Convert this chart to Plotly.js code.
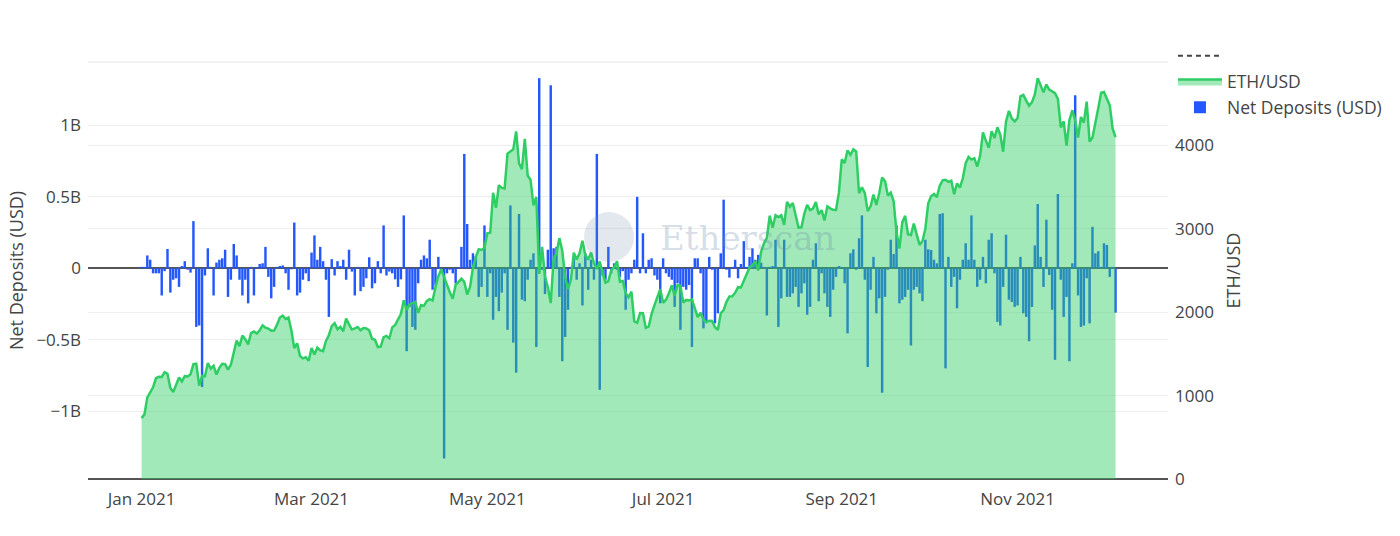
<!DOCTYPE html>
<html>
<head>
<meta charset="utf-8">
<script src="https://cdn.plot.ly/plotly-3.0.1.min.js"></script>
<style>
  html, body { margin: 0; padding: 0; background: #fff; }
  #chart { width: 1400px; height: 536px; }
</style>
</head>
<body>
<div id="chart"></div>
<script>
// ---- Data ----
const monthKeys = ['01','02','03','04','05','06','07','08','09','10','11','12'];

// ETH/USD daily price, by month
const ethJan = [730,775,979,1042,1100,1208,1225,1224,1281,1262,1090,1043,1130,1218,1171,1233,1230,1257,1377,1382,1121,1236,1231,1391,1324,1357,1253,1332,1382,1377,1312];
const ethFeb = [1370,1515,1660,1594,1719,1677,1614,1750,1769,1744,1784,1843,1814,1804,1779,1781,1848,1937,1960,1919,1935,1781,1570,1626,1475,1446,1459,1417];
const ethMar = [1570,1492,1575,1541,1533,1655,1724,1834,1869,1795,1825,1772,1924,1854,1792,1806,1823,1783,1810,1806,1783,1681,1669,1582,1588,1700,1715,1688,1818,1846,1918];
const ethApr = [1977,2143,2028,2094,2111,2124,1992,2085,2076,2135,2157,2140,2299,2432,2514,2423,2318,2236,2162,2330,2364,2403,2363,2212,2303,2536,2660,2755,2746,2772];
const ethMay = [2945,2952,3431,3253,3522,3490,3484,3902,3928,3952,4168,3785,3715,4079,3639,3587,3282,3382,2460,2784,2431,2300,2109,2643,2706,2888,2736,2419,2279,2390,2714];
const ethJun = [2633,2707,2856,2689,2630,2715,2590,2517,2608,2472,2354,2372,2508,2537,2611,2366,2373,2230,2178,2246,1889,1874,1990,1989,1812,1829,1979,2085,2169,2275];
const ethJul = [2113,2150,2226,2322,2198,2324,2316,2117,2147,2140,2153,2038,1940,1995,1911,1880,1898,1895,1820,1787,1990,2026,2124,2188,2191,2233,2300,2297,2383,2462,2537];
const ethAug = [2562,2610,2502,2725,2827,2890,3157,3013,3163,3141,3164,3046,3322,3265,3310,3156,3014,3018,3182,3286,3225,3242,3320,3173,3224,3101,3269,3245,3227,3225,3433];
const ethSep = [3834,3790,3941,3887,3952,3927,3426,3498,3427,3212,3270,3410,3285,3430,3615,3572,3398,3433,3329,2958,2764,3077,3155,2931,2925,3062,2934,2807,2853,3001];
const ethOct = [3307,3391,3418,3380,3518,3581,3587,3563,3576,3415,3545,3493,3606,3786,3862,3830,3847,3745,3877,4155,4057,3972,4171,4087,4217,4131,3924,4288,4414,4325,4288];
const ethNov = [4325,4589,4605,4537,4476,4518,4610,4807,4730,4636,4730,4668,4648,4626,4557,4216,4288,3998,4304,4421,4304,4095,4341,4273,4524,4045,4096,4293,4445,4631];
const ethDec = [4640,4560,4480,4200,4100];

// Net deposits (billions of USD), by month
const depJan = [0.01,0.01,0.09,0.06,-0.035,-0.035,-0.035,-0.19,-0.02,0.135,-0.17,-0.08,-0.07,-0.13,0.016,0.05,-0.01,-0.03,0.33,-0.41,-0.40,-0.83,-0.05,0.14,0.01,-0.19,0.04,0.06,0.07,0.13,-0.2];
const depFeb = [-0.08,0.17,0.09,-0.08,-0.19,-0.08,-0.245,0.01,-0.19,0.005,0.03,0.035,0.15,-0.06,-0.21,-0.13,0.01,0.016,0.02,-0.035,-0.15,-0.007,0.32,-0.19,-0.17,-0.08,-0.035,-0.09];
const depMar = [0.11,0.23,0.06,0.15,0.05,-0.08,-0.34,0.064,-0.05,0.05,0.016,0.06,-0.08,0.13,-0.023,-0.19,0.01,-0.16,-0.13,-0.07,0.077,-0.14,-0.105,0.05,-0.035,0.30,-0.05,-0.023,-0.035,-0.077,-0.13];
const depApr = [-0.077,0.37,-0.58,-0.27,-0.41,-0.43,-0.105,0.06,0.09,0.07,0.2,-0.15,-0.12,0.08,-0.01,-1.33,-0.035,-0.01,-0.035,-0.105,0.005,0.15,0.80,0.31,0.06,0.105,0.086,-0.2,-0.13,0.30];
const depMay = [-0.2,-0.035,-0.36,-0.2,-0.30,-0.17,-0.035,-0.43,0.44,-0.52,-0.73,0.38,-0.22,-0.23,-0.08,0.06,0.105,-0.55,1.33,-0.01,-0.18,0.13,1.28,0.14,0.15,-0.2,-0.65,-0.48,-0.29,0.01,0.07];
const depJun = [-0.08,0.035,-0.26,0.105,-0.15,0.06,-0.08,0.80,-0.85,-0.05,-0.08,0.15,-0.035,0.035,-0.01,-0.06,-0.02,-0.29,-0.08,-0.035,0.06,0.50,-0.035,0.245,-0.035,0.06,0.07,-0.05,-0.08,-0.245];
const depJul = [0.07,-0.035,-0.06,-0.08,-0.27,-0.105,-0.43,-0.13,-0.15,-0.117,-0.55,0.07,0.07,-0.035,-0.42,-0.37,0.08,-0.01,-0.385,-0.315,0.105,0.48,-0.01,-0.065,0.01,0.06,-0.07,0.03,0.19,0.01,0.08];
const depAug = [0.14,0.06,0.094,0.04,0.01,-0.33,0.01,0.016,0.20,-0.41,-0.21,0.2,-0.2,-0.2,-0.175,-0.13,-0.27,-0.175,-0.105,-0.325,-0.27,0.06,0.175,-0.23,-0.035,-0.175,-0.27,-0.34,-0.15,-0.06,0.016];
const depSep = [0.01,-0.105,-0.455,0.105,0.133,-0.01,0.21,0.37,-0.08,-0.69,-0.15,0.08,-0.315,-0.21,-0.87,-0.2,-0.01,0.2,0.1,0.30,-0.245,-0.22,-0.2,-0.15,-0.54,-0.15,-0.13,-0.175,-0.23,0.2];
const depOct = [0.133,0.128,0.06,0.035,0.38,0.385,-0.70,0.08,-0.13,-0.06,-0.28,-0.08,0.06,0.175,0.06,0.37,0.06,-0.13,-0.08,0.08,-0.105,0.2,0.245,-0.035,-0.375,-0.4,-0.13,0.235,-0.22,-0.235,-0.27];
const depNov = [-0.26,0.08,-0.315,-0.34,-0.51,-0.27,0.16,0.45,0.08,-0.13,0.34,-0.047,-0.29,-0.64,0.52,-0.08,-0.34,-0.2,-0.65,0.035,1.21,-0.19,-0.41,-0.4,-0.07,-0.385,0.29,0.105,0.12,0.01];
const depDec = [0.175,0.163,-0.06,0.01,-0.31];

const yTickVals2 = [0, 1000, 2000, 3000, 4000, 5000];
const yTickText2 = ['0', '1000', '2000', '3000', '4000', ''];
const xTickVals = ['2021-01-01','2021-03-01','2021-05-01','2021-07-01','2021-09-01','2021-11-01'];
const xTickText = ['Jan 2021','Mar 2021','May 2021','Jul 2021','Sep 2021','Nov 2021'];

// ---- Build series ----
const ethByMonth = [ethJan,ethFeb,ethMar,ethApr,ethMay,ethJun,ethJul,ethAug,ethSep,ethOct,ethNov,ethDec];
const depByMonth = [depJan,depFeb,depMar,depApr,depMay,depJun,depJul,depAug,depSep,depOct,depNov,depDec];
const dates = [], eth = [], dep = [];
monthKeys.forEach((mm, mi) => {
  ethByMonth[mi].forEach((v, i) => {
    const dd = String(i + 1).padStart(2, '0');
    dates.push('2021-' + mm + '-' + dd);
    eth.push(v);
    dep.push(depByMonth[mi][i] * 1e9);
  });
});

const FONT = '"Open Sans", verdana, arial, sans-serif';
const TICK = 17;

const traces = [
  {
    type: 'bar', name: 'Net Deposits (USD)', x: dates, y: dep,
    marker: { color: 'rgb(36,88,255)' }, yaxis: 'y', legendrank: 3,
    hoverinfo: 'skip'
  },
  {
    type: 'scatter', mode: 'lines', name: 'ETH/USD', x: dates, y: eth,
    line: { color: 'rgb(46,206,100)', width: 2.5 },
    fill: 'tozeroy', fillcolor: 'rgba(46,206,100,0.45)',
    yaxis: 'y2', legendrank: 2, hoverinfo: 'skip'
  },
  {
    type: 'scatter', mode: 'lines', name: '', x: [null], y: [null],
    line: { color: '#444', width: 2, dash: '5px,4px' },
    yaxis: 'y2', legendrank: 1, hoverinfo: 'skip'
  }
];

const layout = {
  width: 1400, height: 536,
  margin: { l: 88, r: 232, t: 62, b: 57, pad: 0 },
  paper_bgcolor: '#fff', plot_bgcolor: '#fff',
  font: { family: FONT, size: 16, color: '#444' },
  showlegend: true,
  bargap: 0.15,
  legend: {
    x: 1.0046, xanchor: 'left', y: 1.058, yanchor: 'top',
    font: { size: 17.5, color: '#444' }, itemwidth: 44,
    bgcolor: 'rgba(0,0,0,0)'
  },
  xaxis: {
    type: 'date', range: ['2020-12-13 10:00', '2021-12-23 05:00'],
    showgrid: false, zeroline: false, showline: false,
    tickvals: xTickVals, ticktext: xTickText, ticks: '',
    tickfont: { size: TICK, color: '#444' }, ticklabelstandoff: 8
  },
  yaxis: {
    range: [-1.4734e9, 1.4427e9], dtick: 0.5e9, tick0: 0,
    exponentformat: 'B', showgrid: true, gridcolor: '#eee', gridwidth: 1,
    zeroline: true, zerolinecolor: '#555', zerolinewidth: 2,
    title: { text: 'Net Deposits (USD)', font: { size: 18, color: '#444' }, standoff: 8 },
    tickfont: { size: TICK, color: '#444' }, ticks: '', ticklabelstandoff: 6
  },
  yaxis2: {
    overlaying: 'y', side: 'right', range: [0, 5000],
    tickvals: yTickVals2, ticktext: yTickText2,
    showgrid: true, gridcolor: '#eee', gridwidth: 1,
    zeroline: true, zerolinecolor: '#555', zerolinewidth: 2,
    title: { text: 'ETH/USD', font: { size: 18, color: '#444' }, standoff: 14 },
    tickfont: { size: TICK, color: '#444' }, ticks: '', ticklabelstandoff: 6
  },
  shapes: [
    { type: 'line', xref: 'paper', yref: 'paper', x0: 0, x1: 1, y0: 1, y1: 1,
      line: { color: '#eee', width: 1.5 }, layer: 'below' },
    { type: 'circle', xref: 'paper', yref: 'paper', x0: 0.4593, x1: 0.5056, y0: 0.5204, y1: 0.6403,
      fillcolor: 'rgba(110,140,170,0.2)', line: { width: 0 }, layer: 'above' }
  ],
  annotations: [
    { xref: 'paper', yref: 'paper', x: 0.6111, y: 0.578, text: 'Etherscan', showarrow: false,
      font: { family: '"DejaVu Serif", serif', size: 34, color: 'rgba(110,140,170,0.3)' } }
  ]
};

Plotly.newPlot('chart', traces, layout, { displayModeBar: false, staticPlot: true });
</script>
</body>
</html>
